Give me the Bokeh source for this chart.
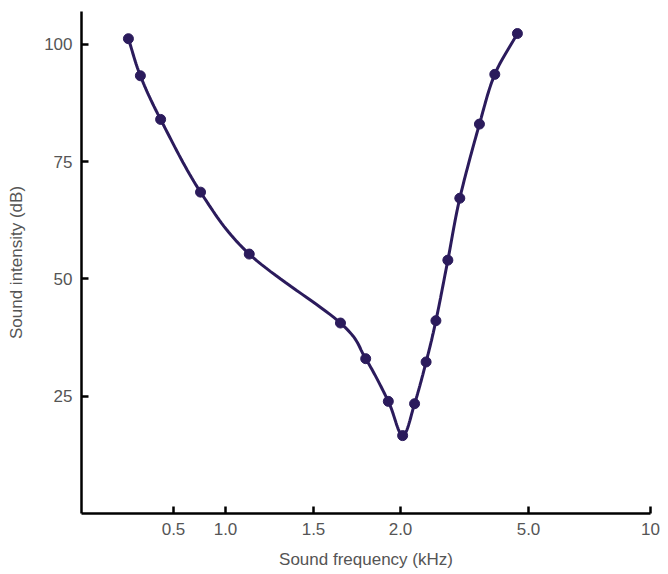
import numpy as np
from bokeh.plotting import figure
from bokeh.models import FixedTicker, Range1d
from bokeh.embed import file_html
from bokeh.resources import INLINE

# ---- data ----
freq_khz = [0.255, 0.32, 0.43, 0.76, 1.135, 1.655, 1.80, 1.93, 2.05,
            2.33, 2.60, 2.83, 3.11, 3.39, 3.85, 4.21, 4.74]
intensity_db = [101.2, 93.3, 84.0, 68.5, 55.3, 40.6, 33.0, 23.9, 16.6,
                23.4, 32.3, 41.1, 54.0, 67.2, 83.0, 93.6, 102.3]
x_tick_values = [0.5, 1.0, 1.5, 2.0, 5.0, 10]
x_tick_labels = ["0.5", "1.0", "1.5", "2.0", "5.0", "10"]
y_ticks = [25, 50, 75, 100]

# the printed frequency axis is non-uniform: stops of the drawn scale
scale_freq = [0, 0.5, 1.0, 1.5, 2.0, 5.0, 10]
scale_pos = [0, 0.92, 1.44, 2.32, 3.19, 4.47, 5.69]

def to_pos(f):
    return np.interp(f, scale_freq, scale_pos)

xp = to_pos(np.array(freq_khz))
yp = np.array(intensity_db, dtype=float)
tick_pos = [float(v) for v in to_pos(np.array(x_tick_values))]

# smooth Catmull-Rom curve through the data points (screen-proportional units)
sx, sy = 100.0, 4.7
P = np.column_stack([xp * sx, yp * sy])
P_ext = np.vstack([2 * P[0] - P[1], P, 2 * P[-1] - P[-2]])
cx, cy = [], []
for i in range(1, len(P_ext) - 2):
    p0, p1, p2, p3 = P_ext[i - 1], P_ext[i], P_ext[i + 1], P_ext[i + 2]
    for t in np.linspace(0, 1, 20, endpoint=False):
        t2, t3 = t * t, t * t * t
        pt = 0.5 * ((2 * p1) + (-p0 + p2) * t + (2 * p0 - 5 * p1 + 4 * p2 - p3) * t2
                    + (-p0 + 3 * p1 - 3 * p2 + p3) * t3)
        cx.append(pt[0] / sx)
        cy.append(pt[1] / sy)
cx.append(P[-1][0] / sx)
cy.append(P[-1][1] / sy)

COLOR = "#2b1b5c"
FONT = "Liberation Sans"
TXT = "#555555"

p = figure(width=661, height=571, output_backend="svg", toolbar_location=None,
           x_range=Range1d(0, scale_pos[-1]), y_range=Range1d(0, 107),
           min_border_left=81, min_border_right=11, min_border_top=11, min_border_bottom=57)
p.outline_line_color = None
p.xgrid.grid_line_color = None
p.ygrid.grid_line_color = None
p.background_fill_color = "white"
p.border_fill_color = "white"

p.line(cx, cy, line_color=COLOR, line_width=3)
p.scatter(xp, yp, size=10, fill_color=COLOR, line_color=COLOR)

xa = p.xaxis[0]
xa.ticker = FixedTicker(ticks=tick_pos)
xa.major_label_overrides = {t: lab for t, lab in zip(tick_pos, x_tick_labels)}
ya = p.yaxis[0]
ya.ticker = FixedTicker(ticks=y_ticks)

for ax in (xa, ya):
    ax.axis_line_width = 2.5
    ax.axis_line_color = "black"
    ax.major_tick_line_width = 2.5
    ax.major_tick_line_color = "black"
    ax.major_tick_in = 7
    ax.major_tick_out = 0
    ax.minor_tick_line_color = None
    ax.major_label_text_font = FONT
    ax.major_label_text_font_size = "17px"
    ax.major_label_text_color = TXT
    ax.axis_label_text_font = FONT
    ax.axis_label_text_font_size = "17px"
    ax.axis_label_text_color = TXT
    ax.axis_label_text_font_style = "normal"

xa.axis_label = "Sound frequency (kHz)"
ya.axis_label = "Sound intensity (dB)"
xa.major_label_standoff = 9
xa.axis_label_standoff = 12
ya.major_label_standoff = 9
ya.axis_label_standoff = 15

open("out.html", "w").write(file_html(p, INLINE))
